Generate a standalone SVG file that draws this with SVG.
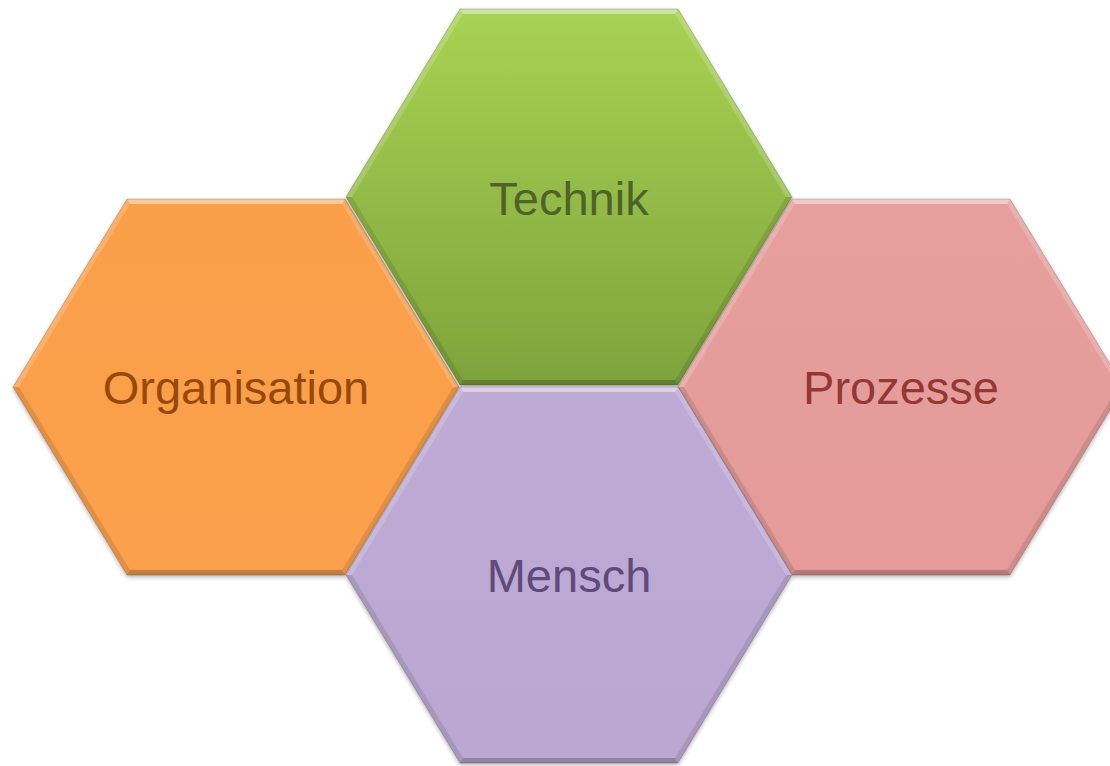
<svg xmlns="http://www.w3.org/2000/svg" width="1110" height="766" viewBox="0 0 1110 766">
<defs>
<linearGradient id="gGreen" x1="0" y1="0" x2="0" y2="1"><stop offset="0" stop-color="#a8d253"/><stop offset="1" stop-color="#7fa33b"/></linearGradient>
<linearGradient id="gOrange" x1="0" y1="0" x2="0" y2="1"><stop offset="0" stop-color="#f99f4a"/><stop offset="1" stop-color="#fba04d"/></linearGradient>
<linearGradient id="gPink" x1="0" y1="0" x2="0" y2="1"><stop offset="0" stop-color="#e69f9d"/><stop offset="1" stop-color="#e49b99"/></linearGradient>
<linearGradient id="gPurple" x1="0" y1="0" x2="0" y2="1"><stop offset="0" stop-color="#bdaad5"/><stop offset="1" stop-color="#bba8d2"/></linearGradient>
<filter id="sh" x="-10%" y="-10%" width="120%" height="120%"><feDropShadow dx="0" dy="2" stdDeviation="2" flood-color="#000" flood-opacity="0.3"/></filter>
<polygon id="hex" points="-109,-188 109,-188 223,0 109,188 -109,188 -223,0"/>
</defs>
<style>
.lbl{font-family:"Liberation Sans",Arial,sans-serif;font-size:47px;text-anchor:middle}
.hi1{fill:#fff;opacity:.45}
.hi2{fill:#fff;opacity:.18}
.lo1{fill:#000;opacity:.10}
.lo2{fill:#000;opacity:.22}
.edge{fill:none;stroke:#000;stroke-opacity:.18;stroke-width:1}
</style>
<g id="connectors"/>
<g id="node-organisation" transform="translate(236,387)">
<use href="#hex" fill="url(#gOrange)" filter="url(#sh)"/>
<polygon class="hi1" points="-109,-188 109,-188 106,-183 -106,-183"/>
<polygon class="hi2" points="-109,-188 -106,-183 -217,0 -223,0"/>
<polygon class="hi2" points="109,-188 223,0 217,0 106,-183"/>
<polygon class="lo1" points="-223,0 -217,0 -106,183 -109,188"/>
<polygon class="lo1" points="223,0 109,188 106,183 217,0"/>
<polygon class="lo2" points="-109,188 -106,183 106,183 109,188"/>
<use href="#hex" class="edge"/>
<text class="lbl" x="0" y="17" fill="#984807">Organisation</text>
</g>
<g id="node-technik" transform="translate(569,197)">
<use href="#hex" fill="url(#gGreen)" filter="url(#sh)"/>
<polygon class="hi1" points="-109,-188 109,-188 106,-183 -106,-183"/>
<polygon class="hi2" points="-109,-188 -106,-183 -217,0 -223,0"/>
<polygon class="hi2" points="109,-188 223,0 217,0 106,-183"/>
<polygon class="lo1" points="-223,0 -217,0 -106,183 -109,188"/>
<polygon class="lo1" points="223,0 109,188 106,183 217,0"/>
<polygon class="lo2" points="-109,188 -106,183 106,183 109,188"/>
<use href="#hex" class="edge"/>
<text class="lbl" x="0" y="18" fill="#4f6228">Technik</text>
</g>
<g id="node-prozesse" transform="translate(901,387)">
<use href="#hex" fill="url(#gPink)" filter="url(#sh)"/>
<polygon class="hi1" points="-109,-188 109,-188 106,-183 -106,-183"/>
<polygon class="hi2" points="-109,-188 -106,-183 -217,0 -223,0"/>
<polygon class="hi2" points="109,-188 223,0 217,0 106,-183"/>
<polygon class="lo1" points="-223,0 -217,0 -106,183 -109,188"/>
<polygon class="lo1" points="223,0 109,188 106,183 217,0"/>
<polygon class="lo2" points="-109,188 -106,183 106,183 109,188"/>
<use href="#hex" class="edge"/>
<text class="lbl" x="0" y="17" fill="#953735">Prozesse</text>
</g>
<g id="node-mensch" transform="translate(569,575)">
<use href="#hex" fill="url(#gPurple)" filter="url(#sh)"/>
<polygon class="hi1" points="-109,-188 109,-188 106,-183 -106,-183"/>
<polygon class="hi2" points="-109,-188 -106,-183 -217,0 -223,0"/>
<polygon class="hi2" points="109,-188 223,0 217,0 106,-183"/>
<polygon class="lo1" points="-223,0 -217,0 -106,183 -109,188"/>
<polygon class="lo1" points="223,0 109,188 106,183 217,0"/>
<polygon class="lo2" points="-109,188 -106,183 106,183 109,188"/>
<use href="#hex" class="edge"/>
<text class="lbl" x="0" y="17" fill="#604a7b">Mensch</text>
</g>
</svg>
